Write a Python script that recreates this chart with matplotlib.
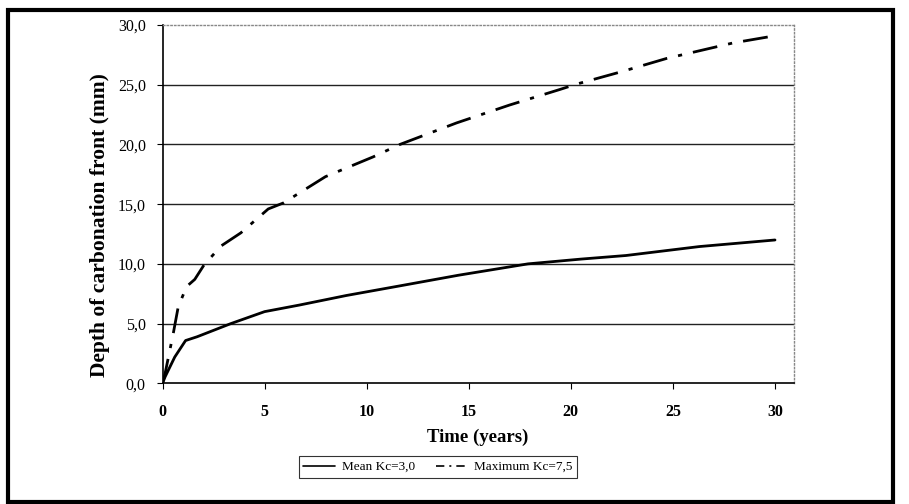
import matplotlib
matplotlib.use("Agg")
import matplotlib.pyplot as plt
from matplotlib.patches import Rectangle

plt.rcParams['font.family'] = ['Liberation Serif', 'DejaVu Serif']

# values
mean_t = [0, 0.13, 0.6, 1.13, 1.7, 3.35, 5.0, 6.7, 9.0, 11.6, 14.5, 17.9, 20.5, 22.7, 26.3, 30]
mean_d = [0, 0.55, 2.2, 3.58, 3.9, 5.0, 6.0, 6.55, 7.35, 8.15, 9.05, 10.0, 10.4, 10.7, 11.45, 12.0]

max_t = [0, 0.13, 0.53, 0.77, 1.18, 1.58, 2.03, 2.87, 3.84, 5.18, 5.92, 7.98, 10.32,
         11.63, 14.4, 17.0, 19.46, 20.28, 22.5, 24.69, 27.95, 30]
max_d = [0, 0.85, 4.2, 6.4, 8.1, 8.7, 9.9, 11.5, 12.6, 14.6, 15.1, 17.3, 18.96,
         20.0, 21.8, 23.3, 24.6, 25.05, 26.1, 27.2, 28.5, 29.1]

labels = ['Mean Kc=3,0', 'Maximum Kc=7,5']
yticks = [0, 5, 10, 15, 20, 25, 30]
xticks = [0, 5, 10, 15, 20, 25, 30]

W, H = 909, 504
fig = plt.figure(figsize=(W / 100, H / 100), dpi=100)

# outer frame of the chart
fig.patches.append(Rectangle((8 / W, 2 / H), (893 - 8) / W, (494 - 2) / H,
                             transform=fig.transFigure, fill=False,
                             edgecolor='black', linewidth=3))

ax = fig.add_axes([162.5 / W, (H - 383.3) / H, (794 - 162.5) / W, (383.3 - 25) / H])

l1, = ax.plot(mean_t, mean_d, color='black', lw=2.0, solid_capstyle='round')
l2, = ax.plot(max_t, max_d, color='black', lw=2.0, dashes=(9, 4, 1.5, 4))

ax.set_xlim(0, 30.93)
ax.set_ylim(0, 30)
ax.set_yticks(yticks)
ax.set_yticklabels([f"{v:.1f}".replace('.', ',') for v in yticks], fontsize=11.5)
ax.set_xticks(xticks)
ax.set_xticklabels([str(v) for v in xticks], fontsize=11.5, fontweight='bold')
ax.tick_params(axis='y', direction='out', length=4, width=0.8, color='black', pad=8)
ax.tick_params(axis='x', direction='out', length=4, width=0.8, color='black', pad=11)

for y in yticks[1:-1]:
    ax.axhline(y, color='#222222', lw=1.0, zorder=1)

ax.spines['left'].set_linewidth(1.2)
ax.spines['bottom'].set_linewidth(1.2)
for s in ['top', 'right']:
    ax.spines[s].set_color('#888888')
    ax.spines[s].set_linestyle(':')
    ax.spines[s].set_linewidth(1.0)

fig.text(100 / W, 1 - 225 / H, 'Depth of carbonation front (mm)', rotation=90,
         ha='center', va='center', fontsize=15.5, fontweight='bold')
fig.text(478 / W, 1 - 437 / H, 'Time (years)', ha='center', va='center',
         fontsize=13.5, fontweight='bold')

leg = fig.legend([l1, l2], labels, loc='center',
                 bbox_to_anchor=(438 / W, 1 - 467 / H), ncol=2, frameon=True,
                 fancybox=False, edgecolor='black', fontsize=9.5,
                 handlelength=2.4, columnspacing=1.6, handletextpad=0.5,
                 borderpad=0.35, borderaxespad=0)
leg.get_frame().set_linewidth(0.8)
hl = leg.get_lines()
hl[0].set_linewidth(1.2)
hl[1].set_linewidth(1.2)
hl[1].set_dashes((5, 3, 1.2, 3))

fig.savefig('out.png', dpi=100)
